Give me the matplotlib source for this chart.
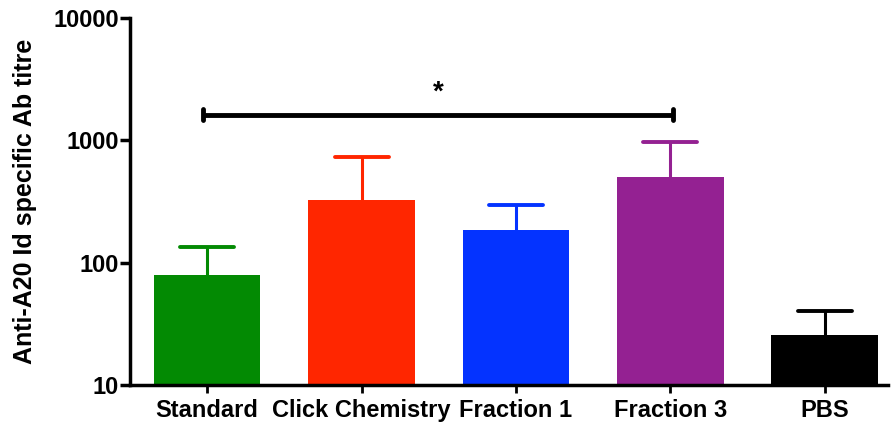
import numpy as np
import matplotlib.pyplot as plt

plt.rcParams["font.family"] = ["Liberation Sans", "DejaVu Sans"]
plt.rcParams["font.weight"] = "bold"

# Group means and upper error bar ends (titre)
groups = ["Standard", "Click Chemistry", "Fraction 1", "Fraction 3", "PBS"]
means = [79, 326, 185, 505, 25.6]
upper = [135, 731, 296, 970, 40.5]
colors = ["#038A03", "#FF2600", "#0433FF", "#942192", "#000000"]

# Significance: Standard vs Fraction 3
sig_pair = (0, 3)
sig_level = 1615
sig_label = "*"

fig = plt.figure(figsize=(8.92, 4.25), dpi=100)
ax = fig.add_axes([130 / 892, 1 - 385 / 425, 758 / 892, 367 / 425])

x = np.arange(len(groups))
ax.bar(x, means, width=0.69, color=colors, bottom=0.0001, zorder=2)

# Upper-only error bars
cap = 0.175
ax.vlines(x, means, upper, colors=colors, linewidth=2.2, zorder=3)
ax.hlines(upper, x - cap, x + cap, colors=colors, linewidth=2.8,
          capstyle="round", zorder=3)

ax.set_yscale("log")
ax.set_ylim(10, 10000)
ax.set_xlim(-0.5, 4.41)
ax.set_yticks([10, 100, 1000, 10000])
ax.set_yticklabels(["10", "100", "1000", "10000"])
ax.minorticks_off()
ax.set_xticks(x)
ax.set_xticklabels(groups)
ax.set_ylabel("Anti-A20 Id specific Ab titre", fontsize=18, fontweight="bold",
              labelpad=12)

for side in ["top", "right"]:
    ax.spines[side].set_visible(False)
for side in ["left", "bottom"]:
    ax.spines[side].set_linewidth(2.5)
ax.tick_params(axis="y", length=7, width=2.5, labelsize=17, pad=1)
ax.tick_params(axis="x", length=6, width=2, labelsize=17, pad=4)

# Significance bracket
x0, x1 = sig_pair[0] - 0.03, sig_pair[1] + 0.02
ax.plot([x0, x1], [sig_level, sig_level], color="black", lw=3.5,
        solid_capstyle="butt", zorder=4)
for xe in (x0, x1):
    ax.plot([xe, xe], [sig_level * 0.9, sig_level * 1.11], color="black",
            lw=3.5, solid_capstyle="round", zorder=4)
ax.text((x0 + x1) / 2, sig_level * 1.2, sig_label, ha="center", va="bottom",
        fontsize=20, fontweight="bold")

fig.savefig("out.png", dpi=100)
